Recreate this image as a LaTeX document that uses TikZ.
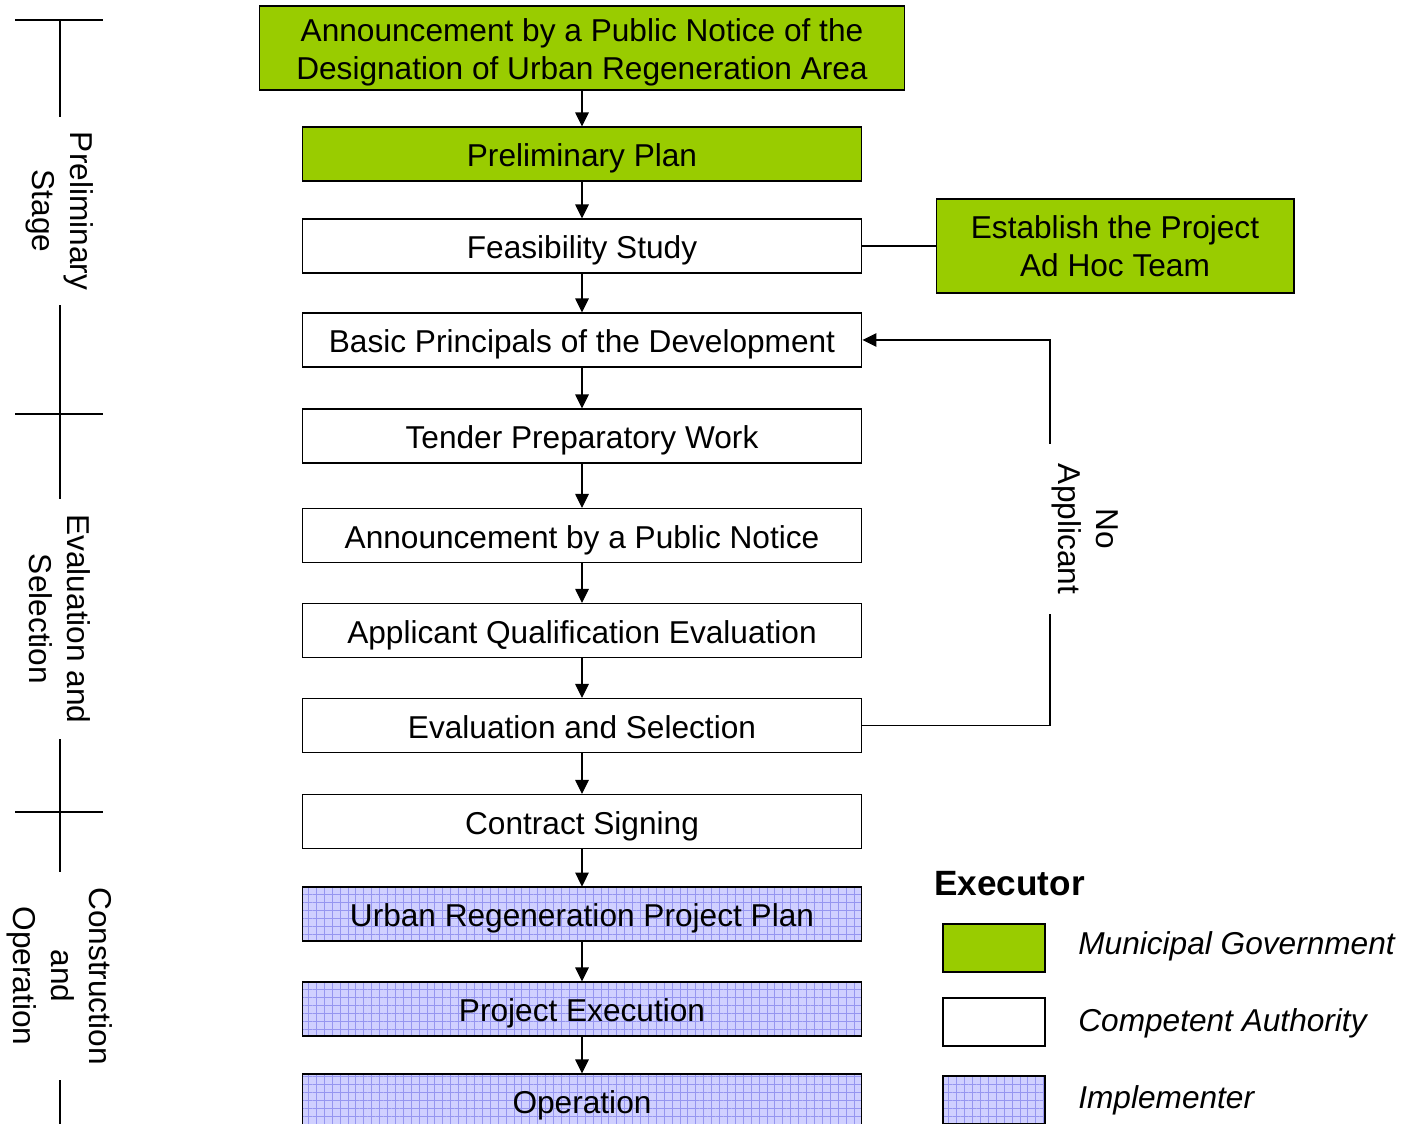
\documentclass[tikz,border=0pt]{standalone}
\usepackage{fontspec}
\setmainfont{Liberation Sans}
\usetikzlibrary{arrows.meta,patterns.meta}
\definecolor{mungreen}{RGB}{153,204,0}
\definecolor{implfill}{RGB}{208,208,255}
\definecolor{implgrid}{RGB}{150,150,240}
\begin{document}
\begin{tikzpicture}[x=0.02cm,y=-0.02cm,
    every node/.style={font=\fontsize{18pt}{21.6pt}\selectfont},
    box/.style={draw,line width=0.6pt,inner sep=0pt},
    stepbox/.style={box,minimum width=11.2cm,minimum height=1.08cm,text height=15.5pt,text depth=0.8pt},
    mun/.style={fill=mungreen},
    impl/.style={preaction={fill=implfill},
      preaction={pattern={Lines[angle=0,distance=4.5pt,line width=0.4pt]},pattern color=implgrid},
      pattern={Lines[angle=90,distance=4.5pt,line width=0.4pt]},pattern color=implgrid},
    arr/.style={-{Triangle[length=2.8mm,width=2.7mm]},line width=0.6pt},
    stage/.style={rotate=-90,fill=white,align=center,inner xsep=0.3cm,inner ysep=4pt},
    legbox/.style={box,minimum width=2.04cm,minimum height=0.96cm},
    legtext/.style={anchor=base west,inner sep=0pt,font=\fontsize{18pt}{21.6pt}\selectfont\itshape}]

    \clip (0,0) rectangle (1418,1124);

    \draw[line width=0.6pt] (60,20) -- (60,1124);
    \draw[line width=0.6pt] (15,20) -- (103,20);
    \draw[line width=0.6pt] (15,414) -- (103,414);
    \draw[line width=0.6pt] (15,812) -- (103,812);

    \node[stage] (S1) at (60,211) {Preliminary\\Stage};
    \node[stage] (S2) at (60,619) {Evaluation and\\Selection};
    \node[stage] (S3) at (60,976) {Construction\\and\\Operation};

    \node[box,mun,minimum width=12.9cm,minimum height=1.68cm,align=center] (AN) at (582,48)
        {\rule{0pt}{17.7pt}Announcement by a Public Notice of the\\Designation of Urban Regeneration Area};
    \node[stepbox,mun] (PP) at (582,154) {Preliminary Plan};
    \node[stepbox] (FS) at (582,246) {Feasibility Study};
    \node[stepbox] (BP) at (582,340) {Basic Principals of the Development};
    \node[stepbox] (TP) at (582,436) {Tender Preparatory Work};
    \node[stepbox] (PN) at (582,535.5) {Announcement by a Public Notice};
    \node[stepbox] (QE) at (582,630.5) {Applicant Qualification Evaluation};
    \node[stepbox] (ES) at (582,725.5) {Evaluation and Selection};
    \node[stepbox] (CS) at (582,821.5) {Contract Signing};
    \node[stepbox,impl] (UP) at (582,914) {Urban Regeneration Project Plan};
    \node[stepbox,impl] (PE) at (582,1009) {Project Execution};
    \node[stepbox,impl] (OP) at (582,1101) {Operation};

    \node[box,mun,minimum width=7.16cm,minimum height=1.88cm,align=center] (AH) at (1115,246)
        {Establish the Project\\Ad Hoc Team};

    \draw[arr] (AN) -- (PP);
    \draw[arr] (PP) -- (FS);
    \draw[arr] (FS) -- (BP);
    \draw[arr] (BP) -- (TP);
    \draw[arr] (TP) -- (PN);
    \draw[arr] (PN) -- (QE);
    \draw[arr] (QE) -- (ES);
    \draw[arr] (ES) -- (CS);
    \draw[arr] (CS) -- (UP);
    \draw[arr] (UP) -- (PE);
    \draw[arr] (PE) -- (OP);
    \draw[line width=0.6pt] (FS.east) -- (AH.west);

    \coordinate (LC) at (1050,725.5);
    \draw[arr] (ES.east) -- (LC) |- (BP.east);
    \node[stage,inner xsep=0.4cm] (NA) at (1085,529) {No\\Applicant};

    \node[anchor=west,inner sep=0pt,font=\fontsize{20pt}{24pt}\selectfont\bfseries] (EX) at (934,884) {Executor};
    \node[legbox,mun] (LG) at (994,948) {};
    \node[legbox] (LW) at (994,1022) {};
    \node[legbox,impl] (LB) at (994,1100) {};
    \node[legtext] (TG) at (1078,955) {Municipal Government};
    \node[legtext] (TW) at (1078,1032) {Competent Authority};
    \node[legtext] (TB) at (1078,1109) {Implementer};
\end{tikzpicture}
\end{document}
